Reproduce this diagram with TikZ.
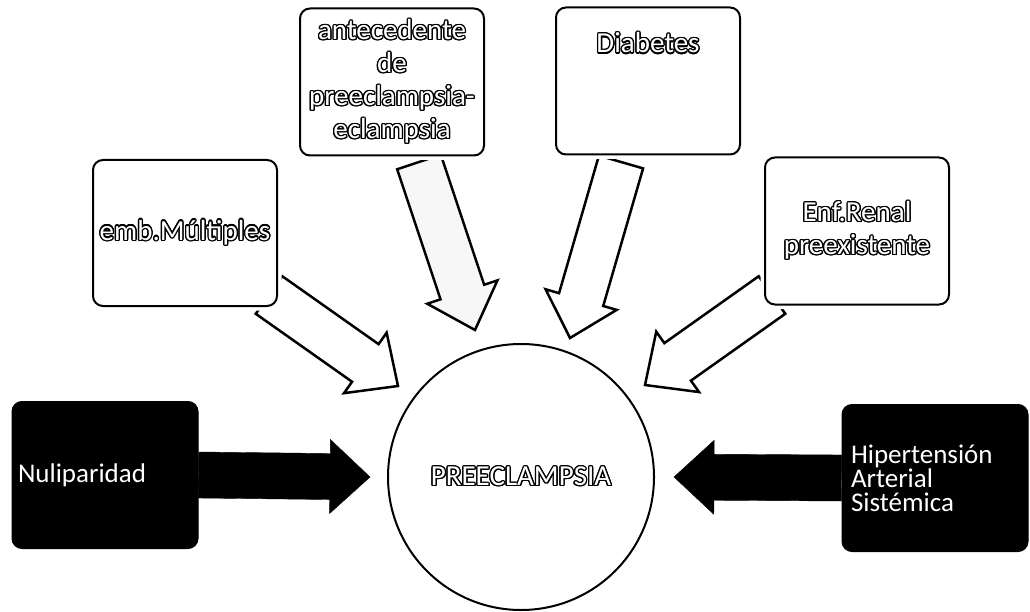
\documentclass[tikz,border=0pt]{standalone}
\usepackage{fontspec}
\setmainfont{Carlito}
\usepackage{contour}
\contourlength{1.3pt}
\usepackage{tikz}
\usetikzlibrary{calc,positioning}
\tikzset{
  wbox/.style={draw,line width=2pt,rounded corners=10pt,fill=white,
    minimum width=184pt,minimum height=146pt,align=center,
    preaction={draw=white,line width=9pt},
    font=\fontsize{29}{33}\selectfont},
  dbox/.style={draw,line width=1pt,rounded corners=10pt,fill=black,text=white,
    minimum width=186pt,minimum height=147pt,align=left,
    font=\fontsize{27}{24}\selectfont},
  harrow/.style={draw,line width=2.5pt,fill=white,line join=miter},
  barrow/.style={fill=black},
  every node/.style={inner sep=0pt}
}
\newcommand\outl[1]{\contour{black}{\textcolor{white}{#1}}}
% block arrow from tail #2 to tip #3
\newcommand\fatarrow[3]{%
  \coordinate (hb) at ($(#3)!40pt!(#2)$);
  \draw[#1] ($(#2)!23pt!90:(#3)$) -- ($(hb)!23pt!-90:(#2)$)
    -- ($(hb)!37pt!-90:(#2)$) -- (#3) -- ($(hb)!37pt!90:(#2)$)
    -- ($(hb)!23pt!90:(#2)$) -- ($(#2)!23pt!-90:(#3)$) -- cycle;
}

\begin{document}
\begin{tikzpicture}[x=1pt,y=-1pt]
  \useasboundingbox (0,0) rectangle (1030,612);
  % tails and tips of the light arrows
  \coordinate (t1) at (269,295);  \coordinate (p1) at (398,386);
  \coordinate (t2) at (419,162);  \coordinate (p2) at (475,330);
  \coordinate (t3) at (621,162);  \coordinate (p3) at (570,338);
  \coordinate (t4) at (772,295);  \coordinate (p4) at (645,385);
  \fatarrow{harrow}{t1}{p1}
  \fatarrow{harrow,fill=gray!6}{t2}{p2}
  \fatarrow{harrow}{t3}{p3}
  \fatarrow{harrow}{t4}{p4}

  \node[wbox] (emb) at (185,233) {\outl{emb.Múltiples}};
  \node[wbox,minimum height=147pt] (ante) at (392,82)
    {\outl{antecedente}\\\outl{de}\\\outl{preeclampsia-}\\\outl{eclampsia}};
  \node[wbox,minimum height=147pt] (diab) at (648,81) {};
  \node[font=\fontsize{29}{33}\selectfont,below=26pt of diab.north] (diabtxt)
    {\outl{Diabetes}};
  \node[wbox,minimum height=147pt] (renal) at (857,231)
    {\outl{Enf.Renal}\\\outl{preexistente}};

  \node[circle,draw,line width=2pt,minimum size=266pt,
    font=\fontsize{29}{33}\selectfont] (pre) at (521,477) {\outl{PREECLAMPSIA}};

  \node[dbox,text width=174pt,inner xsep=6pt] (nuli) at (105,475) {Nuliparidad};
  \node[dbox,text width=168pt,inner xsep=9pt] (hiper) at (935,478)
    {Hipertensión\\Arterial\\Sistémica};

  % dark arrows
  \coordinate (p5) at ($(pre.west)+(-17,0)$);
  \coordinate (p6) at ($(pre.east)+(19,0)$);
  \fatarrow{barrow}{nuli.east}{p5}
  \fatarrow{barrow}{hiper.west}{p6}
\end{tikzpicture}
\end{document}
